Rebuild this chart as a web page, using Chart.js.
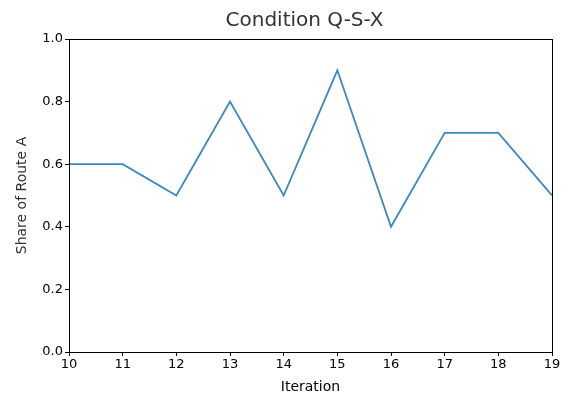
<!DOCTYPE html>
<html>
<head>
<meta charset="utf-8">
<script src="https://cdn.jsdelivr.net/npm/chart.js@4/dist/chart.umd.min.js"></script>
<style>
  html, body { margin: 0; padding: 0; background: #fff; }
  #wrap { width: 565px; height: 396px; }
</style>
</head>
<body>
<div id="wrap"><canvas id="lineChart" width="565" height="396"></canvas></div>
<script>
const iterations = [10, 11, 12, 13, 14, 15, 16, 17, 18, 19];
const shareRouteA = [0.6, 0.6, 0.5, 0.8, 0.5, 0.9, 0.4, 0.7, 0.7, 0.5];
const yTicks = [0.0, 0.2, 0.4, 0.6, 0.8, 1.0];
const chartTitle = 'Condition Q-S-X';

// draw the full box around the plot area and the title centred over it
const frameBox = {
    id: 'frameBox',
    afterDatasetsDraw(chart) {
        const { ctx, chartArea: a } = chart;
        ctx.save();
        ctx.strokeStyle = '#000';
        ctx.lineWidth = 1;
        ctx.strokeRect(Math.round(a.left) + 0.5, Math.round(a.top) + 0.5,
            Math.round(a.right - a.left), Math.round(a.bottom - a.top));
        ctx.fillStyle = '#333';
        ctx.font = '20px "DejaVu Sans"';
        ctx.textAlign = 'center';
        ctx.textBaseline = 'middle';
        ctx.fillText(chartTitle, (a.left + a.right) / 2 - 6, 21);
        ctx.restore();
    }
};

const ctx = document.getElementById('lineChart').getContext('2d');
new Chart(ctx, {
    type: 'line',
    data: {
        datasets: [{
            data: iterations.map((it, i) => ({ x: it, y: shareRouteA[i] })),
            borderColor: '#3a88c4',
            borderWidth: 1.8,
            pointRadius: 0,
            tension: 0,
            fill: false
        }]
    },
    options: {
        responsive: false,
        animation: false,
        layout: { padding: { left: 11, right: 13, top: 39, bottom: 0 } },
        plugins: {
            legend: { display: false },
            tooltip: { enabled: false },
            title: { display: false }
        },
        scales: {
            x: {
                type: 'linear',
                min: 10,
                max: 19,
                afterFit(s) { s.height = 44; },
                ticks: {
                    stepSize: 1,
                    color: '#000',
                    padding: 1,
                    maxRotation: 0,
                    font: { family: 'DejaVu Sans', size: 13 }
                },
                grid: { drawOnChartArea: false, tickLength: 4, color: '#000' },
                border: { color: '#000' },
                title: {
                    display: true,
                    text: 'Iteration',
                    color: '#000',
                    padding: { top: 1, bottom: 0 },
                    font: { family: 'DejaVu Sans', size: 14 }
                }
            },
            y: {
                min: 0,
                max: 1,
                afterFit(s) { s.width = 58; },
                afterBuildTicks(s) { s.ticks = yTicks.map(v => ({ value: v })); },
                ticks: {
                    color: '#000',
                    padding: 2,
                    callback: v => v.toFixed(1),
                    font: { family: 'DejaVu Sans', size: 13 }
                },
                grid: { drawOnChartArea: false, tickLength: 4, color: '#000' },
                border: { color: '#000' },
                title: {
                    display: true,
                    text: 'Share of Route A',
                    color: '#333',
                    padding: { top: 3, bottom: 4 },
                    font: { family: 'DejaVu Sans', size: 14 }
                }
            }
        }
    },
    plugins: [frameBox]
});
</script>
</body>
</html>
